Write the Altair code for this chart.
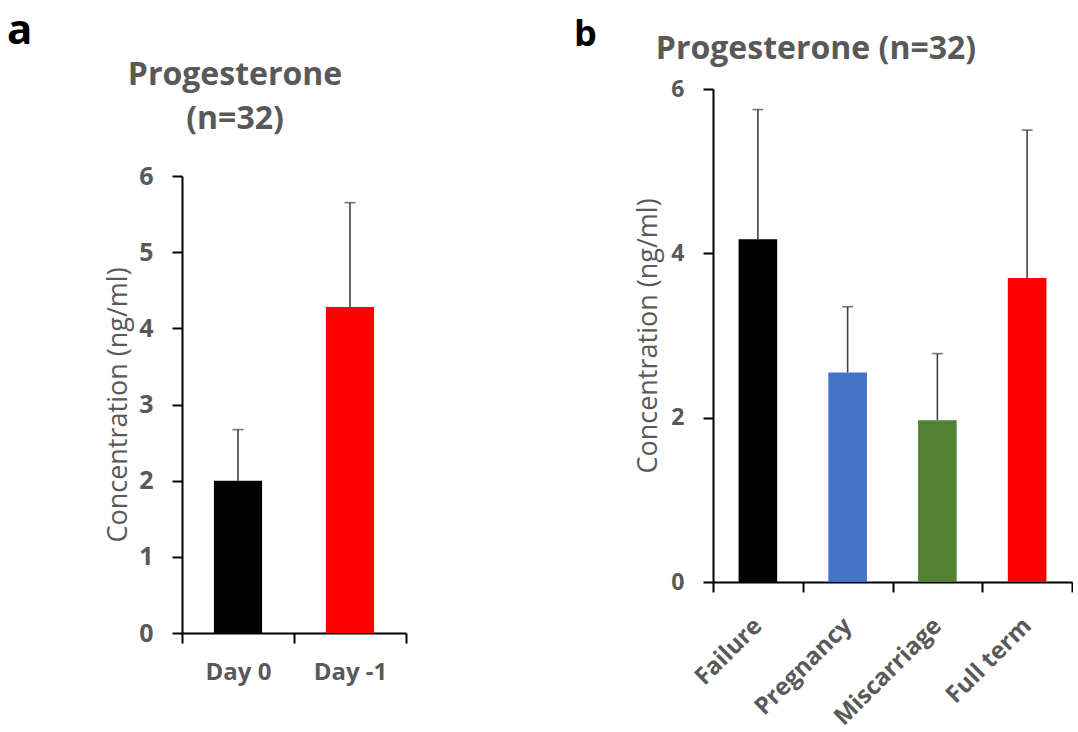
import altair as alt
import pandas as pd

# ---- data ----
a_groups = ["Day 0", "Day -1"]
a_means = [2.0, 4.28]
a_upper = [2.67, 5.65]
a_colors = ["#000000", "#FF0000"]

b_groups = ["Failure", "Pregnancy", "Miscarriage", "Full term"]
b_means = [4.17, 2.55, 1.97, 3.70]
b_upper = [5.75, 3.35, 2.78, 5.50]
b_colors = ["#000000", "#4472C4", "#548235", "#FF0000"]

y_ticks_a = [0, 1, 2, 3, 4, 5, 6]
y_ticks_b = [0, 2, 4, 6]

FONT = "Open Sans"
GRAY = "#595959"
ERR = "#404040"


def panel(groups, means, upper, colors, yticks, w, h, yrange, letter, letter_size,
          letter_xy, title_lines, title_xy, title_size, ylab_size, xlab_size,
          xlab_angle, xlab_pad, ylab_pad, title_pad):
    df = pd.DataFrame({"group": groups, "mean": means, "upper": upper})
    xaxis = alt.Axis(
        title=None, tickBand="extent", labelAngle=xlab_angle,
        labelAlign="center" if xlab_angle == 0 else "right",
        labelBaseline="top" if xlab_angle == 0 else "middle",
        labelFont=FONT, labelFontSize=xlab_size, labelFontWeight="bold",
        labelColor=GRAY, labelPadding=xlab_pad, domainColor="black",
        domainWidth=2, tickColor="black", tickWidth=2, tickSize=10, grid=False,
    )
    yaxis = alt.Axis(
        title="Concentration (ng/ml)", values=yticks, labelFont=FONT,
        labelFontSize=ylab_size, labelFontWeight="bold", labelColor=GRAY,
        labelPadding=ylab_pad, domainColor="black", domainWidth=2, tickColor="black",
        tickWidth=2, tickSize=10, grid=False, titleFont=FONT, titleFontSize=27,
        titleFontWeight="normal", titleColor=GRAY, titlePadding=title_pad,
    )
    xs = alt.Scale(domain=groups, paddingInner=0, paddingOuter=0)
    ys = alt.Scale(domain=[0, 6], nice=False, range=yrange)
    x = alt.X("group:N", sort=groups, scale=xs, axis=xaxis)
    base = alt.Chart(df)
    bars = base.mark_bar(width=alt.RelativeBandSize(0.43)).encode(
        x=x,
        y=alt.Y("mean:Q", scale=ys, axis=yaxis),
        color=alt.Color("group:N", scale=alt.Scale(domain=groups, range=colors), legend=None),
    )
    rule = base.mark_rule(color=ERR, strokeWidth=1.6).encode(
        x=x, y=alt.Y("mean:Q", scale=ys, axis=yaxis), y2="upper:Q"
    )
    cap = base.mark_tick(color=ERR, size=11, thickness=1.6).encode(
        x=x, y=alt.Y("upper:Q", scale=ys, axis=yaxis)
    )
    one = alt.Data(values=[{"k": 1}])
    lab = alt.Chart(one).mark_text(
        text=letter, font=FONT, fontSize=letter_size, fontWeight="bold",
        color="black", align="left", baseline="alphabetic",
    ).encode(x=alt.value(letter_xy[0]), y=alt.value(letter_xy[1]))
    ttl = alt.Chart(one).mark_text(
        text=title_lines, font=FONT, fontSize=title_size, fontWeight="bold",
        color=GRAY, align="center", baseline="alphabetic", lineHeight=44,
    ).encode(x=alt.value(title_xy[0]), y=alt.value(title_xy[1]))
    topmark = alt.Chart(one).mark_rule(color="white", strokeWidth=0.5).encode(
        x=alt.value(0), x2=alt.value(1), y=alt.value(-83), y2=alt.value(-82)
    )
    return alt.layer(bars, rule, cap, lab, ttl, topmark).properties(width=w, height=h)


pa = panel(a_groups, a_means, a_upper, a_colors, y_ticks_a, 224, 544, [544, 87],
           "a", 42, (-175, -45), ["Progesterone", "(n=32)"], (53, -4), 32,
           25, 24, 0, 17, 19, 6)
pb = panel(b_groups, b_means, b_upper, b_colors, y_ticks_b, 359, 493, [493, 0],
           "b", 36, (-139, -43), ["Progesterone (n=32)"], (103, -30), 32,
           23, 24, -45, 30, 19, 8)

chart = alt.hconcat(pa, pb, spacing=167).properties(
    padding={"left": 7, "top": 5, "right": 0, "bottom": 0}
).resolve_scale(color="independent").configure_view(stroke=None)

chart.save("out.html", embed_options={"renderer": "svg", "actions": False})
